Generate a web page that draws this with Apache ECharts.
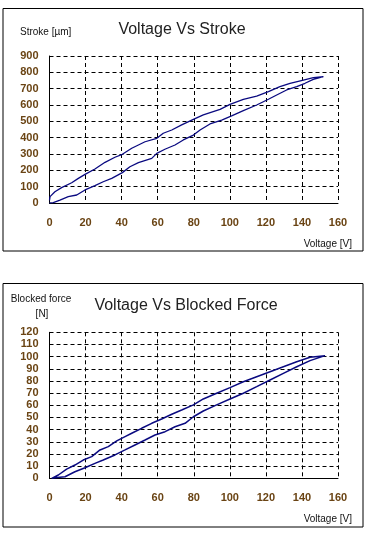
<!DOCTYPE html>
<html><head><meta charset="utf-8">
<script src="https://cdn.jsdelivr.net/npm/echarts@6/dist/echarts.min.js"></script>
<style>html,body{margin:0;padding:0;background:#fff}#c{width:365px;height:538px}</style>
</head><body><div id="c"></div>
<script>
// Voltage axis ticks
const voltageTicks = [0, 20, 40, 60, 80, 100, 120, 140, 160];
const strokeTicks = [0, 100, 200, 300, 400, 500, 600, 700, 800, 900];
const forceTicks = [0, 10, 20, 30, 40, 50, 60, 70, 80, 90, 100, 110, 120];

// Stroke hysteresis loop (rising voltage branch then falling branch)
const strokeVoltage = [0,2.1,5.8,10.4,15.1,19.7,25.2,29.8,34.5,40.4,44.6,49.3,56.7,59.5,64,69.6,74.2,79.8,83.5,89,95.5,101,107.5,114.9,121.4,126,131.5,137.1,141.7,146.3,151.9,
  151.9,146.3,140.8,133.4,127.8,121.4,114.9,107.5,100.1,94.6,85.3,79.8,73.3,67.8,63.1,59.5,53,45.6,40.4,36.3,30.8,25.2,19.7,16,12.3,6.7,3,0.3,0];
const strokeValue = [0,2,18,39,49,80,106,130,151,186,222,247,273,304,329,355,386,416,447,484,508,533,565,600,635,661,692,712,733,757,773,
  776,767,753,733,712,682,655,635,604,573,539,512,478,447,427,396,375,335,298,280,249,208,175,151,124,94,69,39,16];

// Blocked force hysteresis loop
const forceVoltage = [1.2,3,8.6,14.1,19.7,25.2,29.8,36.3,41.9,47.4,53,58.5,64.1,69.6,75.2,79.8,85.3,92.7,100.1,107.5,114.9,122.3,129.7,137.1,144.5,152.8,
  152.8,144.5,137.1,129.7,122.3,114.9,107.5,100.1,92.7,85.3,79.8,73.3,67.8,62.2,56.7,51.1,45.6,41.9,37.3,32.6,28,23.4,18.7,14.1,9.5,4.9,1.2];
const forceValue = [0,0.5,1.3,5.4,8.7,12.3,15,19.2,23.3,27.4,31.5,35.6,38.3,42.4,45.2,50.6,55.3,60.3,65.2,69.9,75.3,80.8,86.3,91.7,96.7,100.8,
  101.3,99.5,95.8,91.7,87.6,83.5,79.4,74.5,69.9,65.2,60.3,56.1,52.6,48.7,45.2,41.1,37,34.2,30.7,26,23.3,17.8,15,10.9,7.6,2.7,0];

const FONT = 'Liberation Sans, Arial, sans-serif';
const LABEL = '#6a4414';
const zip = (a, b) => a.map((v, i) => [v, b[i]]);

const splitLine = { show: true, lineStyle: { color: '#000', type: [4, 3], width: 1 } };
const axisLine = { show: true, lineStyle: { color: '#000', width: 1 } };
function xAx(gi) {
  return { type: 'value', gridIndex: gi, min: voltageTicks[0], max: voltageTicks[voltageTicks.length-1],
    interval: voltageTicks[1]-voltageTicks[0], axisLine, axisTick: { show: false }, splitLine,
    axisLabel: { color: LABEL, fontFamily: FONT, fontSize: 11, fontWeight: 'bold', margin: 14 } };
}
function yAx(gi, ticks) {
  return { type: 'value', gridIndex: gi, min: ticks[0], max: ticks[ticks.length-1],
    interval: ticks[1]-ticks[0], axisLine, axisTick: { show: false }, splitLine,
    axisLabel: { color: LABEL, fontFamily: FONT, fontSize: 11, fontWeight: 'bold', margin: 11 } };
}

const chart = echarts.init(document.getElementById('c'), null, { renderer: 'canvas' });
chart.setOption({
  animation: false,
  backgroundColor: '#fff',
  grid: [
    { left: 49.5, top: 56, width: 288.5, height: 147 },
    { left: 49.5, top: 332.3, width: 288.5, height: 146 }
  ],
  xAxis: [xAx(0), xAx(1)],
  yAxis: [yAx(0, strokeTicks), yAx(1, forceTicks)],
  series: [
    { type: 'line', xAxisIndex: 0, yAxisIndex: 0, data: zip(strokeVoltage, strokeValue), showSymbol: false,
      lineStyle: { color: '#0a0a80', width: 1.3 } },
    { type: 'line', xAxisIndex: 1, yAxisIndex: 1, data: zip(forceVoltage, forceValue), showSymbol: false,
      lineStyle: { color: '#0a0a80', width: 1.5 } }
  ],
  graphic: [
    { type: 'rect', shape: { x: 3, y: 8.5, width: 360, height: 242.5 }, style: { fill: 'none', stroke: '#000', lineWidth: 1 }, z: 100 },
    { type: 'rect', shape: { x: 3, y: 283.5, width: 360, height: 243.5 }, style: { fill: 'none', stroke: '#000', lineWidth: 1 }, z: 100 },
    { type: 'text', x: 182, y: 30, style: { text: 'Voltage Vs Stroke', font: '16px ' + FONT, fill: '#222', align: 'center', verticalAlign: 'middle' } },
    { type: 'text', x: 186, y: 305.5, style: { text: 'Voltage Vs Blocked Force', font: '16px ' + FONT, fill: '#222', align: 'center', verticalAlign: 'middle' } },
    { type: 'text', x: 20, y: 32, style: { text: 'Stroke [µm]', font: '10px ' + FONT, fill: '#111', align: 'left', verticalAlign: 'middle' } },
    { type: 'text', x: 352, y: 244, style: { text: 'Voltage [V]', font: '10px ' + FONT, fill: '#111', align: 'right', verticalAlign: 'middle' } },
    { type: 'text', x: 41, y: 299, style: { text: 'Blocked force', font: '10px ' + FONT, fill: '#111', align: 'center', verticalAlign: 'middle' } },
    { type: 'text', x: 42, y: 314, style: { text: '[N]', font: '10px ' + FONT, fill: '#111', align: 'center', verticalAlign: 'middle' } },
    { type: 'text', x: 352, y: 519, style: { text: 'Voltage [V]', font: '10px ' + FONT, fill: '#111', align: 'right', verticalAlign: 'middle' } }
  ]
});
</script></body></html>
